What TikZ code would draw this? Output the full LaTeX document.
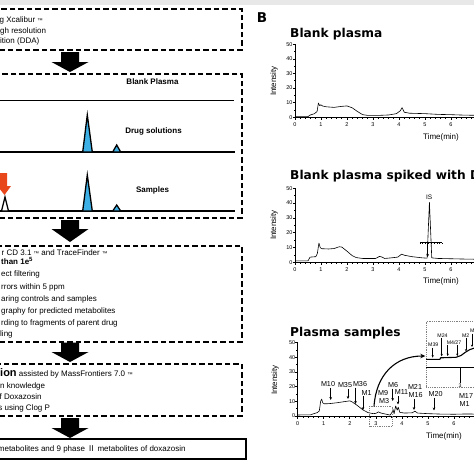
\documentclass[tikz,border=0pt]{standalone}
\usepackage{fontspec}
\setmainfont{Liberation Sans}
\newfontfamily\titlefont{DejaVu Sans}
\newfontfamily\cjk{Noto Sans CJK SC}
\usetikzlibrary{arrows.meta}
\definecolor{peakblue}{HTML}{3DB0E6}
\definecolor{redarr}{HTML}{E8471C}
\definecolor{dotgray}{HTML}{808080}
\newcommand\fsz[1]{\fontsize{#1}{#1}\selectfont}
\tikzset{
 dbox/.style={draw, line width=1.6pt, dash pattern=on 5.5pt off 3pt, inner sep=0pt},
 sbox/.style={draw, line width=1.6pt, inner sep=0pt},
 ltext/.style={anchor=base west, inner sep=0pt, font=\fsz{8}},
 hdtext/.style={anchor=base, inner sep=0pt, font=\fsz{8}\bfseries},
 chrom/.style={line width=1.5pt},
 peak/.style={draw, line width=1.3pt, fill=peakblue, line join=miter},
 wpeak/.style={draw, line width=1.3pt, fill=white, line join=miter},
 blockarr/.style={fill=black},
 axisline/.style={line width=0.7pt},
 trace/.style={line width=0.6pt, line join=round},
 ticklab/.style={inner sep=0pt, font=\fsz{5.5}},
 axlab/.style={inner sep=0pt, font=\fsz{8}},
 ptitle/.style={anchor=base west, inner sep=0pt, font=\titlefont\bfseries\fsz{12.2}},
 mlab/.style={inner sep=0.8pt, font=\fsz{7.2}},
 ilab/.style={inner sep=0.6pt, font=\fsz{5.2}},
 marr/.style={-{Stealth[length=3pt,width=2.6pt]}, line width=0.6pt},
 iarr/.style={-{Stealth[length=2.4pt,width=2.2pt]}, line width=0.5pt},
 dotbox/.style={draw=dotgray, line width=0.6pt, dash pattern=on 0.8pt off 1pt, inner sep=0pt},
}
\newcommand\drawaxes[1]{%
  \draw[axisline] (0,50) -- (0,0) -- (7.6,0);
  \foreach \v in {0,10,20,30,40,50}{
    \draw[axisline] (0,\v) -- ++(-2.5pt,0);
    \node[ticklab, anchor=east] (#1y\v) at ([xshift=-2.3pt]0,\v) {\v};
  }
  \foreach \v in {5,15,25,35,45}{\draw[axisline] (0,\v) -- ++(-1.5pt,0);}
  \foreach \t in {0,...,7}{\draw[axisline] (\t,0) -- ++(0,-3pt);}
  \foreach \t in {0,...,6}{
    \node[ticklab, anchor=north] (#1x\t) at ([yshift=-5.5pt]\t,0) {\t};
  }
  \foreach \t in {0.2,0.4,...,7.4}{\draw[axisline] (\t,0) -- ++(0,-1.8pt);}
}
\begin{document}
\begin{tikzpicture}[x=1pt,y=-1pt]
\useasboundingbox (0,0) rectangle (474,474);
\fill[white] (0,0) rectangle (474,474);
\fill[black!9] (0,0) rectangle (474,4.5);

% ---------------- Panel A ----------------
\node[dbox, anchor=north west, minimum width=251pt, minimum height=41pt] (box1) at (-10,8) {};
\node[ltext] (a11) at (-0.5,22.8) {g Xcalibur {\fsz{5.5}™}};
\node[ltext] (a12) at (0,33.3) {gh resolution};
\node[ltext] (a13) at (0,43.8) {ition (DDA)};

\fill[blockarr] (61,52) -- (79,52) -- (79,62) -- (88.5,62) -- (70,72) -- (51.5,62) -- (61,62) -- cycle;

\node[dbox, anchor=north west, minimum width=251pt, minimum height=144pt] (box2) at (-10,73) {};
\node[hdtext] (hblank) at (152.5,84.8) {Blank Plasma};
\draw[chrom] (-2,100.7) -- (233.5,100.7);
\node[hdtext] (hdrug) at (153.5,133.8) {Drug solutions};
\draw[chrom] (-2,152) -- (235,152);
\filldraw[peak] (82.7,152) -- (87.3,115) -- (92.3,152) -- cycle;
\filldraw[peak] (112.7,152) -- (116.7,145) -- (120.7,152) -- cycle;
\node[hdtext] (hsamp) at (152.5,192.8) {Samples};
\draw[chrom] (-2,211) -- (235,211);
\filldraw[peak] (82.7,211) -- (87.3,175) -- (92.3,211) -- cycle;
\filldraw[peak] (112.7,211) -- (116.7,205) -- (120.7,211) -- cycle;
\filldraw[wpeak] (1.5,211) -- (5,197) -- (8.5,211) -- cycle;
\fill[redarr] (-1.5,173) -- (7,173) -- (7,186) -- (11,186) -- (4.5,195) -- (-2.5,186) -- (-1.5,186) -- cycle;

\fill[blockarr] (61,220) -- (79,220) -- (79,229) -- (88.5,229) -- (70,242) -- (51.5,229) -- (61,229) -- cycle;

\node[dbox, anchor=north west, minimum width=251pt, minimum height=96pt] (box3) at (-10,245) {};
\node[ltext] (a31) at (1.5,255.3) {r CD 3.1 {\fsz{5.5}™} and TraceFinder {\fsz{5.5}™}};
\node[ltext, font=\fsz{8}\bfseries] (a32) at (1,264.8) {than 1e\textsuperscript{5}};
\node[ltext] (a33) at (1,276.8) {ect filtering};
\node[ltext] (a34) at (1,289.3) {rrors within 5 ppm};
\node[ltext] (a35) at (1,301.8) {aring controls and samples};
\node[ltext] (a36) at (1,313.5) {graphy for predicted metabolites};
\node[ltext] (a37) at (1,325.5) {rding to fragments of parent drug};
\node[ltext] (a38) at (0,336.8) {ling};

\fill[blockarr] (61,342.5) -- (79,342.5) -- (79,352) -- (88.5,352) -- (70,362) -- (51.5,352) -- (61,352) -- cycle;

\node[dbox, anchor=north west, minimum width=251pt, minimum height=52pt] (box4) at (-10,363) {};
\node[ltext] (a41) at (0,376.5) {{\fsz{11}\bfseries ion} assisted by MassFrontiers 7.0 {\fsz{5.5}™}};
\node[ltext] (a42) at (0,388.8) {n knowledge};
\node[ltext] (a43) at (-0.5,399.5) {f Doxazosin};
\node[ltext] (a44) at (-1.8,410.5) {s using Clog P};

\fill[blockarr] (61,418) -- (79,418) -- (79,428) -- (88.5,428) -- (70,438) -- (51.5,428) -- (61,428) -- cycle;

\node[sbox, anchor=north west, minimum width=255pt, minimum height=20pt] (box5) at (-10,438) {};
\node[ltext] (a51) at (-2.3,451.8) {metabolites and 9 phase {\cjk Ⅱ} metabolites of doxazosin};

% ---------------- Panel B ----------------
\node[inner sep=0pt, font=\titlefont\bfseries\fsz{13.5}] (lblB) at (262,17.7) {B};

% plot 1
\node[ptitle] (ti1) at (290,37.3) {Blank plasma};
\begin{scope}[shift={(295,117.3)}, x=26pt, y=1.46pt]
\drawaxes{p1}
\draw[trace] plot coordinates {(0,0.4) (0.5,0.5) (0.58,1.5) (0.75,2.5) (0.85,4) (0.9,9.8) (0.95,8) (1.0,8.6) (1.05,7.8) (1.2,7.2) (1.5,6.8) (1.8,7.5) (2.0,7.8) (2.2,6.5) (2.4,4) (2.6,1.8) (2.8,1.3) (3.2,1.3) (3.6,1.6) (3.9,2.5) (4.05,4.5) (4.12,6.6) (4.2,3.5) (4.4,2.8) (5.0,2.5) (5.5,2) (6,1.8) (6.5,1.5) (7.2,1.3) (7.6,1.3)};
\end{scope}
\node[axlab, rotate=90] (int1) at (274,81) {Intensity};
\node[axlab] (tm1) at (441,137) {Time(min)};

% plot 2
\node[ptitle] (ti2) at (290,179) {Blank plasma spiked with D};
\begin{scope}[shift={(295,262.3)}, x=26pt, y=1.48pt]
\drawaxes{p2}
\draw[trace] plot coordinates {(0,1) (0.5,1) (0.58,3.5) (0.8,3.8) (0.86,6) (0.92,13) (0.97,10) (1.02,9.2) (1.3,9) (1.5,9.3) (1.7,10.5) (1.8,10.3) (2.0,7.5) (2.2,4.5) (2.35,3.2) (2.6,2.6) (3.1,2.6) (3.25,4) (3.35,3.5) (3.45,2.6) (3.7,3) (3.95,3.5) (4.1,5.5) (4.2,4.8) (4.5,3.8) (4.9,3) (5.08,2.8) (5.17,40.5) (5.26,3) (5.5,2.6) (6,2.4) (6.5,2.2) (7.2,2) (7.6,2)};
\node[inner sep=0pt, font=\fsz{6.5}] (islab) at (5.16,44.2) {IS};
\draw[line width=0.7pt] (4.8,13.2) -- (5.67,13.2);
\foreach \k in {0,...,8}{\draw[line width=0.5pt] ({4.8+\k*0.109},13.2) -- ++(0,-1.4pt);}
\coordinate (isbar) at (5.1,13.2);
\coordinate (istip) at (5.1,3.5);
\draw[marr] (isbar) -- (istip);
\end{scope}
\node[axlab, rotate=90] (int2) at (274,225) {Intensity};
\node[axlab] (tm2) at (441,281) {Time(min)};

% plot 3
\node[ptitle] (ti3) at (290,336.7) {Plasma samples};
\begin{scope}[shift={(297.7,416)}, x=26.05pt, y=1.47pt]
\drawaxes{p3}
\draw[trace] plot coordinates {(0,0.7) (0.5,0.8) (0.6,1.5) (0.75,2.3) (0.83,3.5) (0.88,10) (0.92,11.5) (0.96,9) (1.02,8.3) (1.2,8.4) (1.5,9) (1.8,9.8) (2.0,10.3) (2.1,9.5) (2.3,7) (2.5,4.2) (2.7,2.3) (2.9,1.6) (3.0,1.8) (3.1,2.8) (3.2,2) (3.4,1.2) (3.55,0.6) (3.62,2.5) (3.66,4.5) (3.7,1.5) (3.76,6.8) (3.82,4) (3.86,6) (3.92,2.5) (4.1,2) (4.4,2.2) (4.5,3.3) (4.6,2) (5.0,1.6) (5.5,1.3) (6.0,1.2) (6.5,1.4) (7.1,1.2) (7.6,1.2)};
\end{scope}
\node[axlab, rotate=90] (int3) at (275,380) {Intensity};
\node[axlab] (tm3) at (444,436) {Time(min)};

% zoom marker and inset
\node[dotbox, anchor=north west, minimum width=22.4pt, minimum height=20pt] (zoomrect) at (369.3,406) {};
\node[dotbox, anchor=north west, minimum width=60pt, minimum height=66.6pt] (inset) at (426,320.7) {};
\coordinate (cstart) at (374,406.5);
\coordinate (cend) at (425.3,356);
\draw[line width=1.1pt, -{Stealth[length=5pt,width=4.5pt]}] (cstart) .. controls (376,375) and (395,356) .. (cend);
\draw[line width=1.1pt, line join=round] (426,359.3) -- (440,359.3) -- (440.5,357.8) -- (456,357.3) -- (461,355.5) -- (465,352.5) -- (470,349.5) -- (476,347.5);
\draw[line width=1.1pt] (426,367.6) -- (476,367.6);
\draw[line width=1pt] (460,367.6) -- (460,382.5);
\node[ilab] (in3) at (460,385.8) {3};

% inset labels
\node[ilab] (i39) at (433.3,345) {M39};
\coordinate (i39t) at (432.7,357.6);
\draw[iarr] (i39.south -| i39t) -- (i39t);
\node[ilab] (i24) at (442.5,335.7) {M24};
\coordinate (i24t) at (441.7,356.3);
\draw[iarr] (i24.south -| i24t) -- (i24t);
\node[ilab] (i427) at (454,342.5) {M4/27};
\coordinate (i4t) at (447.7,356);
\coordinate (i27t) at (457.3,356);
\draw[iarr] (i427.south -| i4t) -- (i4t);
\draw[iarr] (i427.south -| i27t) -- (i27t);
\node[ilab] (i2) at (465.7,335.7) {M2};
\coordinate (i2t) at (466,351.5);
\draw[iarr] (i2.south -| i2t) -- (i2t);
\node[ilab, anchor=west] (ix) at (469.3,331) {M};
\coordinate (ixt) at (472,347);
\draw[iarr] (ix.south -| ixt) -- (ixt);

% main labels
\node[mlab] (m10) at (328,384.3) {M10};
\coordinate (m10t) at (330.7,400);
\draw[marr] (m10.south -| m10t) -- (m10t);
\node[mlab] (m35) at (345,385.3) {M35};
\coordinate (m35t) at (348,399);
\draw[marr] (m35.south -| m35t) -- (m35t);
\node[mlab] (m36) at (360,384) {M36};
\coordinate (m36t) at (355.5,404);
\draw[marr] (m36.south -| m36t) -- (m36t);
\node[mlab] (m1) at (366.7,392.7) {M1};
\coordinate (m1t) at (363,410);
\draw[marr] (m1.south -| m1t) -- (m1t);
\node[mlab] (m9) at (383,392.7) {M9};
\node[mlab] (m3) at (384,400.7) {M3};
\node[mlab] (m6) at (393,385) {M6};
\coordinate (m6t) at (392.7,401);
\draw[marr] (m6.south -| m6t) -- (m6t);
\node[mlab] (m11) at (401.5,392.5) {M11};
\coordinate (m11t) at (398,404.5);
\draw[marr] (m11.south -| m11t) -- (m11t);
\node[mlab] (m21) at (415,387.3) {M21};
\node[mlab] (m16) at (415.7,395) {M16};
\coordinate (m16t) at (414,410);
\draw[marr] (m16.south -| m16t) -- (m16t);
\node[mlab] (m20) at (435.7,394) {M20};
\coordinate (m20t) at (434,410.5);
\draw[marr] (m20.south -| m20t) -- (m20t);
\node[mlab] (m17) at (466,395.7) {M17};
\node[mlab, anchor=west] (m1x) at (458.5,404) {M1};
\end{tikzpicture}
\end{document}
